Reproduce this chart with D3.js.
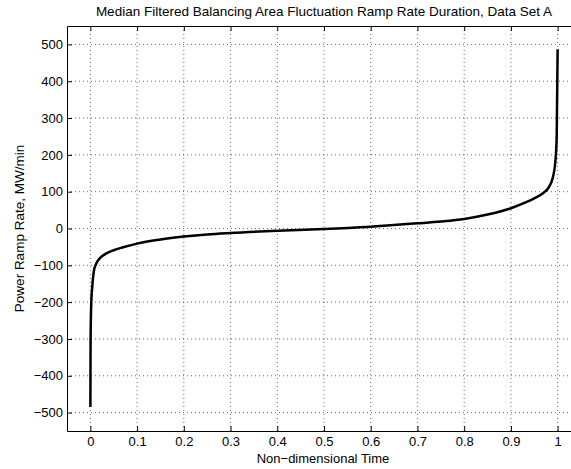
<!DOCTYPE html>
<html>
<head>
<meta charset="utf-8">
<script src="https://cdn.jsdelivr.net/npm/d3@7"></script>
<style>
  body { margin: 0; background: #fff; }
  svg text { font-family: "Liberation Sans", Arial, sans-serif; }
</style>
</head>
<body>
<div id="chart"></div>
<script>
// ramp rate duration curve
var timeVals = [0, 0.0005, 0.002, 0.004, 0.006, 0.008, 0.011, 0.015, 0.02, 0.03, 0.05, 0.07, 0.1, 0.15, 0.2, 0.25, 0.3, 0.4, 0.5, 0.6, 0.7, 0.75, 0.8, 0.85, 0.9, 0.93, 0.95, 0.97, 0.98, 0.99, 0.995, 0.998, 1];
var rampVals = [-485, -300, -200, -160, -130, -112, -100, -89, -81, -71, -59, -51, -41, -30, -22, -16, -12, -6, -1.5, 5, 14, 19, 26, 38, 55, 70, 82, 97, 110, 140, 180, 250, 487];
var xTicks = [0, 0.1, 0.2, 0.3, 0.4, 0.5, 0.6, 0.7, 0.8, 0.9, 1];
var yTicks = [-500, -400, -300, -200, -100, 0, 100, 200, 300, 400, 500];

(function() {
  var W = 571, H = 469;
  var pl = 67, pr = 581, pt = 26, pb = 431;
  var fs = 13;

  var svg = d3.select('#chart').append('svg')
    .attr('width', W)
    .attr('height', H);

  var x = d3.scaleLinear().domain([-0.05, 1.05]).range([pl, pr]);
  var y = d3.scaleLinear().domain([-550, 550]).range([pb, pt]);

  // dotted grid
  svg.append('g').selectAll('line').data(xTicks).enter().append('line')
    .attr('x1', function(d) { return x(d); })
    .attr('x2', function(d) { return x(d); })
    .attr('y1', pt).attr('y2', pb)
    .attr('stroke', '#000').attr('stroke-width', 0.6)
    .attr('stroke-dasharray', '1,3');
  svg.append('g').selectAll('line').data(yTicks).enter().append('line')
    .attr('x1', pl).attr('x2', pr)
    .attr('y1', function(d) { return y(d); })
    .attr('y2', function(d) { return y(d); })
    .attr('stroke', '#000').attr('stroke-width', 0.6)
    .attr('stroke-dasharray', '1,3');

  var fmt = function(d) { return d < 0 ? '\u2212' + Math.abs(d) : String(d); };

  // axes with inward ticks
  var gx = svg.append('g').attr('transform', 'translate(0,' + pb + ')')
    .call(d3.axisBottom(x).tickValues(xTicks).tickSizeInner(-5).tickSizeOuter(0).tickPadding(6).tickFormat(d3.format('')));
  var gxt = svg.append('g').attr('transform', 'translate(0,' + pt + ')')
    .call(d3.axisTop(x).tickValues(xTicks).tickSizeInner(-5).tickSizeOuter(0).tickFormat(''));
  var gy = svg.append('g').attr('transform', 'translate(' + pl + ',0)')
    .call(d3.axisLeft(y).tickValues(yTicks).tickSizeInner(-5).tickSizeOuter(0).tickPadding(4).tickFormat(fmt));

  [gx, gxt, gy].forEach(function(g) {
    g.selectAll('.domain').attr('stroke', '#000').attr('stroke-width', 1);
    g.selectAll('.tick line').attr('stroke', '#000');
    g.selectAll('text').attr('fill', '#000').attr('font-size', fs)
      .style('font-family', '"Liberation Sans", Arial, sans-serif');
  });

  // the curve
  var line = d3.line()
    .x(function(d, i) { return x(timeVals[i]); })
    .y(function(d) { return y(d); })
    .curve(d3.curveMonotoneX);

  svg.append('path')
    .datum(rampVals)
    .attr('d', line)
    .attr('fill', 'none')
    .attr('stroke', '#000')
    .attr('stroke-width', 2.5);

  // labels
  svg.append('text')
    .attr('x', 324).attr('y', 16)
    .attr('text-anchor', 'middle')
    .attr('font-size', 13.5)
    .text('Median Filtered Balancing Area Fluctuation Ramp Rate Duration, Data Set A');

  svg.append('text')
    .attr('x', 323).attr('y', 463)
    .attr('text-anchor', 'middle')
    .attr('font-size', fs)
    .text('Non\u2212dimensional Time');

  svg.append('text')
    .attr('transform', 'translate(24,' + (pt + pb) / 2 + ') rotate(-90)')
    .attr('text-anchor', 'middle')
    .attr('font-size', 13.5)
    .text('Power Ramp Rate, MW/min');
})();
</script>
</body>
</html>
